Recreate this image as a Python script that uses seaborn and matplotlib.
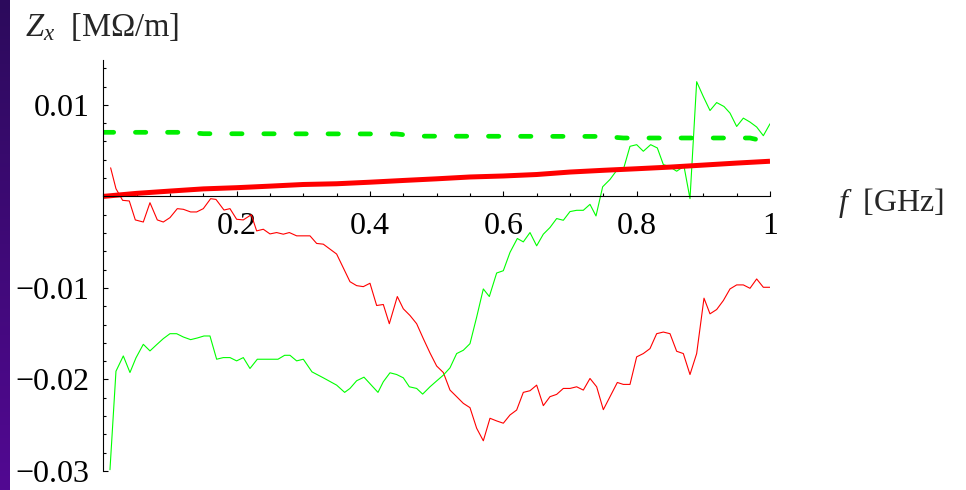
import numpy as np
import matplotlib
matplotlib.use("Agg")
import matplotlib.pyplot as plt
import seaborn as sns
from matplotlib.ticker import MultipleLocator, FixedLocator, FixedFormatter
from matplotlib.colors import LinearSegmentedColormap

# thin red curve
f_red = [0.011, 0.019, 0.029, 0.039, 0.048, 0.06, 0.07, 0.081, 0.09, 0.10,
         0.111, 0.12, 0.131, 0.14, 0.15, 0.161, 0.169, 0.181, 0.19, 0.20,
         0.21, 0.222, 0.23, 0.24, 0.25, 0.26, 0.27, 0.279, 0.29, 0.31,
         0.32, 0.33, 0.35, 0.37, 0.38, 0.39, 0.40, 0.41, 0.42, 0.429,
         0.441, 0.45, 0.46, 0.47, 0.48, 0.49, 0.50, 0.51, 0.52, 0.53,
         0.54, 0.55, 0.56, 0.57, 0.58, 0.59, 0.60, 0.61, 0.62, 0.63,
         0.64, 0.65, 0.66, 0.67, 0.68, 0.69, 0.70, 0.71, 0.72, 0.73,
         0.74, 0.75, 0.771, 0.78, 0.79, 0.80, 0.81, 0.82, 0.83, 0.84,
         0.85, 0.86, 0.87, 0.88, 0.89, 0.901, 0.91, 0.92, 0.93, 0.94,
         0.95, 0.96, 0.97, 0.98, 0.99, 1.00]
z_red = [0.00312, 0.00084, -0.00043, -0.0005, -0.00257, -0.0028, -0.00069, -0.00257, -0.0028, -0.00232,
         -0.00134, -0.00141, -0.0017, -0.0017, -0.00134, -0.00025, -0.00033, -0.00149, -0.00134, -0.0025,
         -0.00257, -0.002, -0.00377, -0.00359, -0.0041, -0.00395, -0.00413, -0.00395, -0.00431, -0.00431,
         -0.00514, -0.00522, -0.0063, -0.00932, -0.00975, -0.00986, -0.00949, -0.01192, -0.01181, -0.01391,
         -0.01094, -0.01228, -0.01301, -0.01391, -0.01554, -0.0171, -0.01853, -0.01924, -0.02116, -0.02188,
         -0.02261, -0.02308, -0.02533, -0.0267, -0.02424, -0.02453, -0.02478, -0.02388, -0.02334, -0.02141,
         -0.02123, -0.02062, -0.02286, -0.02188, -0.02163, -0.02098, -0.02098, -0.0208, -0.02116, -0.01989,
         -0.0208, -0.0233, -0.02033, -0.02054, -0.02054, -0.01753, -0.01717, -0.01663, -0.015, -0.01482,
         -0.015, -0.01692, -0.01717, -0.01946, -0.01717, -0.01112, -0.01283, -0.01236, -0.01138, -0.01011,
         -0.00967, -0.00967, -0.01004, -0.00902, -0.00993, -0.00993]

# thin green curve
f_green = [0.01, 0.019, 0.03, 0.04, 0.049, 0.06, 0.07, 0.08, 0.09, 0.10,
           0.11, 0.12, 0.131, 0.141, 0.151, 0.16, 0.17, 0.18, 0.19, 0.20,
           0.21, 0.22, 0.231, 0.262, 0.272, 0.28, 0.29, 0.30, 0.313, 0.33,
           0.35, 0.362, 0.37, 0.38, 0.391, 0.402, 0.412, 0.42, 0.43, 0.44,
           0.45, 0.459, 0.47, 0.479, 0.49, 0.50, 0.51, 0.52, 0.53, 0.54,
           0.55, 0.56, 0.57, 0.579, 0.59, 0.60, 0.61, 0.621, 0.63, 0.64,
           0.65, 0.66, 0.67, 0.68, 0.69, 0.70, 0.71, 0.72, 0.73, 0.739,
           0.749, 0.76, 0.771, 0.78, 0.79, 0.80, 0.81, 0.821, 0.831, 0.84,
           0.85, 0.86, 0.871, 0.88, 0.89, 0.90, 0.91, 0.92, 0.931, 0.94,
           0.95, 0.96, 0.97, 0.98, 0.99, 1.00]
z_green = [-0.02986, -0.0191, -0.01743, -0.01924, -0.01764, -0.01616, -0.01688, -0.0162, -0.01554, -0.015,
           -0.015, -0.01536, -0.01565, -0.01547, -0.01525, -0.01525, -0.01779, -0.01761, -0.01761, -0.01797,
           -0.01761, -0.0188, -0.01779, -0.01779, -0.01736, -0.01736, -0.01797, -0.01779, -0.01917, -0.01982,
           -0.02062, -0.02141, -0.02098, -0.02014, -0.01975, -0.02062, -0.02141, -0.02025, -0.01927, -0.01946,
           -0.01982, -0.0208, -0.02098, -0.0216, -0.0208, -0.02016, -0.01953, -0.01873, -0.01717, -0.01681,
           -0.01609, -0.01319, -0.01011, -0.01094, -0.00837, -0.00812, -0.00612, -0.0046, -0.00497, -0.00395,
           -0.0054, -0.00413, -0.0034, -0.00242, -0.00261, -0.00166, -0.00152, -0.00152, -0.00087, -0.00214,
           0.00105, 0.00185, 0.00293, 0.00293, 0.00547, 0.00565, 0.00493, 0.00565, 0.00529, 0.00348,
           0.00322, 0.00275, 0.00329, -0.00025, 0.01253, 0.0109, 0.00938, 0.01025, 0.00982, 0.0091,
           0.00764, 0.00855, 0.00812, 0.00758, 0.00663, 0.00793]

# thick red (smooth) curve
f_red_fit = [0.0, 0.05, 0.10, 0.15, 0.20, 0.25, 0.30, 0.35, 0.40, 0.45, 0.50,
             0.55, 0.60, 0.65, 0.70, 0.75, 0.80, 0.85, 0.90, 0.95, 1.00]
z_red_fit = [0.0, 0.00033, 0.00058, 0.00082, 0.00095, 0.00112, 0.0013, 0.00138, 0.00155, 0.00174, 0.00192,
             0.00212, 0.00223, 0.00239, 0.00266, 0.00285, 0.00302, 0.0032, 0.00342, 0.00364, 0.00384]

# thick green dashed curve
f_green_fit = [0.0, 0.125, 0.15, 0.44, 0.47, 0.75, 0.78, 0.97, 1.00]
z_green_fit = [0.0070, 0.0070, 0.00685, 0.00682, 0.00658, 0.00655, 0.00638, 0.00638, 0.0059]

sns.set_style("ticks")
plt.rcParams["font.family"] = ["Liberation Serif", "DejaVu Serif"]
plt.rcParams["mathtext.fontset"] = "custom"
plt.rcParams["mathtext.it"] = "Liberation Serif:italic"
plt.rcParams["mathtext.rm"] = "Liberation Serif"

fig = plt.figure(figsize=(9.66, 4.9), dpi=100)

# purple strip on the left edge
strip = fig.add_axes([0, 0, 10 / 966, 1])
purple = LinearSegmentedColormap.from_list("strip", ["#2c0b5c", "#520892"])
strip.imshow(np.linspace(0, 1, 256).reshape(-1, 1), aspect="auto", cmap=purple)
strip.axis("off")

ax = fig.add_axes([103.3 / 966, 19 / 490, 666.7 / 966, 411 / 490])

sns.lineplot(x=f_red, y=z_red, ax=ax, color="#ff0000", lw=0.8)
sns.lineplot(x=f_green, y=z_green, ax=ax, color="#00ff00", lw=0.8)
sns.lineplot(x=f_red_fit, y=z_red_fit, ax=ax, color="#ff0000", lw=3.6,
             solid_capstyle="butt")
sns.lineplot(x=f_green_fit, y=z_green_fit, ax=ax, color="#00ee00", lw=3.4,
             linestyle=(0, (2.2, 4.6)), dash_capstyle="round")

ax.set_xlim(0, 1.0)
ax.set_ylim(-0.03, 0.0149)
ax.set_xlabel("")
ax.set_ylabel("")

ax.spines["bottom"].set_position(("data", 0))
ax.spines["top"].set_visible(False)
ax.spines["right"].set_visible(False)
for s in ("bottom", "left"):
    ax.spines[s].set_color("black")
    ax.spines[s].set_linewidth(0.8)

ax.xaxis.set_major_locator(FixedLocator([0.2, 0.4, 0.6, 0.8, 1.0]))
ax.xaxis.set_major_formatter(FixedFormatter(["0.2", "0.4", "0.6", "0.8", "1"]))
ax.xaxis.set_minor_locator(MultipleLocator(0.05))
ax.yaxis.set_major_locator(FixedLocator([-0.03, -0.02, -0.01, 0.01]))
ax.yaxis.set_major_formatter(FixedFormatter(["\u22120.03", "\u22120.02", "\u22120.01", "0.01"]))
ax.yaxis.set_minor_locator(MultipleLocator(0.002))

ax.tick_params(which="both", direction="in", colors="black", width=0.8,
               bottom=True, left=True, labelsize=23)
ax.tick_params(which="major", length=3.8)
ax.tick_params(which="minor", length=2.2)
ax.tick_params(axis="x", pad=11)
ax.tick_params(axis="y", pad=10)

fig.text(25 / 966, 1 - 27 / 490, "$Z_x$  [M\u03a9/m]",
         fontsize=23.5, va="center", ha="left")
fig.text(838 / 966, 1 - 203 / 490, "$f$  [GHz]", fontsize=23, va="center", ha="left")

fig.savefig("out.png", dpi=100)
